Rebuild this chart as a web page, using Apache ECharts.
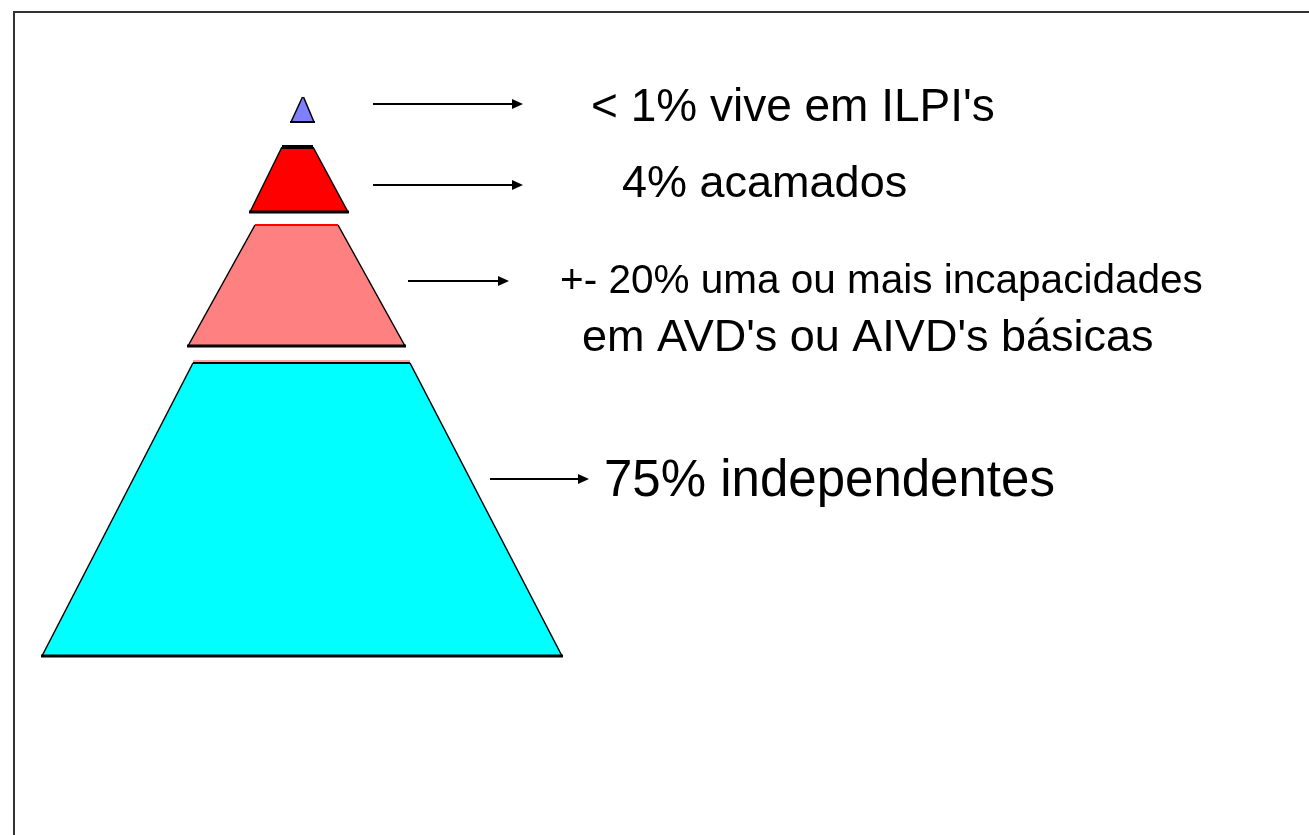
<!DOCTYPE html>
<html><head><meta charset="utf-8">
<script src="https://cdn.jsdelivr.net/npm/echarts@6/dist/echarts.min.js"></script>
<style>html,body{margin:0;padding:0;background:#fff}#c{width:1309px;height:835px}</style>
</head><body><div id="c"></div>
<script>
// Pyramid layers, top to bottom (diagram units: x to the right, y downwards)
const layerNames = ['ILPI', 'Acamados', 'Incapacidades', 'Independentes'];
const layerShares = [1, 4, 20, 75];
const layerTopY = [97, 147, 225, 363];
const layerBottomY = [122, 212, 346, 656];
const layerTopLeft = [302.5, 282, 255, 193];
const layerTopRight = [303.5, 313, 338, 410];
const layerBottomLeft = [291, 250, 188, 42];
const layerBottomRight = [314, 348, 405, 562];

// Arrows
const arrowStartX = [373, 373, 408, 490];
const arrowEndX = [523, 523, 509, 589];
const arrowY = [104, 185, 281, 479];

// Annotation lines
const labelLines = ["< 1% vive em ILPI's", '4% acamados', '+- 20% uma ou mais incapacidades', "em AVD's ou AIVD's básicas", '75% independentes'];
const labelX = [591, 622, 560, 582, 604];
const labelY = [108, 185, 282, 339, 482];

const fills = ['#8080ff', '#ff0000', '#ff8080', '#00ffff'];
const topEdgeColors = ['#000', '#000', '#ff0000', '#000'];
const topEdgeWidths = [1, 4, 2, 2];
const bottomEdgeWidths = [2, 3, 3, 3];
const labelFontSizes = [46, 45, 40.5, 45, 51];

const layerData = layerNames.map((n, i) => [layerTopY[i], layerBottomY[i], layerTopLeft[i], layerTopRight[i], layerBottomLeft[i], layerBottomRight[i], layerShares[i]]);
const arrowData = arrowY.map((y, i) => [arrowStartX[i], arrowEndX[i], y]);
const labelData = labelLines.map((t, i) => [labelX[i], labelY[i]]);

const chart = echarts.init(document.getElementById('c'));
chart.setOption({
  animation: false,
  backgroundColor: '#fff',
  grid: {left: 0, right: 0, top: 0, bottom: 0},
  xAxis: {type: 'value', min: 0, max: 1309, show: false},
  yAxis: {type: 'value', min: 0, max: 835, inverse: true, show: false},
  graphic: [{
    type: 'polyline', silent: true,
    shape: {points: [[14, 835], [14, 12], [1309, 12]]},
    style: {stroke: '#333', lineWidth: 2, fill: null}
  }],
  series: [
    {
      type: 'custom', name: 'layers', data: layerData,
      renderItem: function (params, api) {
        const i = params.dataIndex;
        const ty = api.value(0), by = api.value(1);
        const tl = api.coord([api.value(2), ty]), tr = api.coord([api.value(3), ty]);
        const bl = api.coord([api.value(4), by]), br = api.coord([api.value(5), by]);
        const children = [
          {type: 'polygon', shape: {points: [tl, tr, br, bl]}, style: {fill: fills[i], stroke: null}},
          {type: 'polyline', shape: {points: [tl, bl]}, style: {stroke: '#000', lineWidth: 1.5, fill: null}},
          {type: 'polyline', shape: {points: [tr, br]}, style: {stroke: '#000', lineWidth: 1.5, fill: null}},
          {type: 'polyline', shape: {points: [[bl[0] - 1, bl[1]], [br[0] + 1, br[1]]]}, style: {stroke: '#000', lineWidth: bottomEdgeWidths[i], fill: null}}
        ];
        if (i > 0) {
          children.push({type: 'polyline', shape: {points: [tl, tr]}, style: {stroke: topEdgeColors[i], lineWidth: topEdgeWidths[i], fill: null}});
        }
        if (i === 3) {
          children.push({type: 'polyline', shape: {points: [[tl[0], tl[1] - 2], [tr[0], tr[1] - 2]]}, style: {stroke: '#ff8080', lineWidth: 1.5, fill: null}});
        }
        return {type: 'group', children: children};
      }
    },
    {
      type: 'custom', name: 'arrows', data: arrowData,
      renderItem: function (params, api) {
        const a = api.coord([api.value(0), api.value(2)]);
        const b = api.coord([api.value(1), api.value(2)]);
        return {type: 'group', children: [
          {type: 'line', shape: {x1: a[0], y1: a[1], x2: b[0] - 8, y2: b[1]}, style: {stroke: '#000', lineWidth: 1.8}},
          {type: 'polygon', shape: {points: [[b[0] - 11, b[1] - 5], [b[0], b[1]], [b[0] - 11, b[1] + 5]]}, style: {fill: '#000'}}
        ]};
      }
    },
    {
      type: 'custom', name: 'labels', data: labelData,
      renderItem: function (params, api) {
        const i = params.dataIndex;
        const p = api.coord([api.value(0), api.value(1)]);
        return {type: 'text', style: {
          text: labelLines[i], x: p[0], y: p[1],
          fill: '#000', font: labelFontSizes[i] + 'px "Liberation Sans", Arial, sans-serif',
          align: 'left', verticalAlign: 'middle'
        }};
      }
    }
  ]
});
</script>
</body></html>
